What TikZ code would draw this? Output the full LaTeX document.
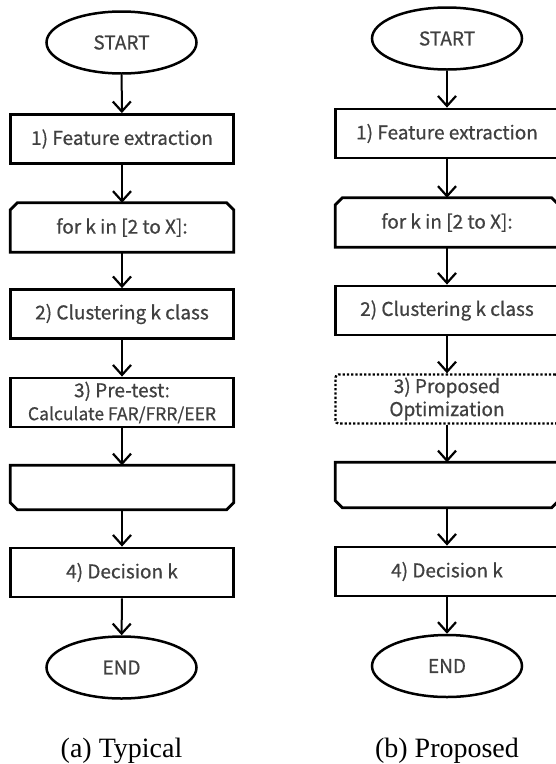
\documentclass[tikz,border=0pt]{standalone}
\usepackage{fontspec}
\setmainfont{Liberation Serif}
\newfontfamily\boxfont[RawFeature={embolden=0.7}]{Noto Sans CJK JP}
\usetikzlibrary{shapes.geometric,arrows.meta,calc}

\begin{document}
\begin{tikzpicture}[x=1pt,y=-1pt,
  txt/.style={font=\boxfont\fontsize{19}{23}\selectfont, text=black!75},
  border/.style={line width=2.8pt, line join=miter},
  boxsize/.style={minimum width=223pt, minimum height=49pt, inner sep=0pt, align=center, txt},
  stepbox/.style={draw, border, boxsize},
  dotbox/.style={boxsize, draw, line width=2.3pt, dash pattern=on 2.3pt off 2pt, rounded corners=3pt},
  loopbox/.style={boxsize},
  term/.style={draw, ellipse, line width=2.5pt, minimum width=150pt, minimum height=62pt,
               inner sep=0pt, txt},
  flow/.style={line width=2pt, -{Straight Barb[length=10pt,width=18pt,line width=2.2pt]}},
  caption/.style={font=\fontsize{28}{30}\selectfont, anchor=base}
]
\useasboundingbox (0,0) rectangle (556,764);
\clip (0,0) rectangle (556,764);

% (a) typical procedure
\node[term]    (aS)  at (121.5,42.5) {START};
\node[stepbox] (a1)  at (122,139)    {1) Feature extraction};
\node[loopbox] (aL)  at (122,227.5)  {for k in [2 to X]:};
\node[stepbox] (a2)  at (122,314)    {2) Clustering k class};
\node[stepbox] (a3)  at (122,402.5)  {3) Pre-test:\\{\fontsize{17.5}{20}\selectfont Calculate FAR/FRR/EER}};
\node[loopbox, minimum height=44pt] (aE) at (122,487.5) {};
\node[stepbox] (a4)  at (122,572.5)  {4) Decision k};
\node[term]    (aT)  at (121.5,667.5){END};
\node[caption] (aC)  at (121.5,757)  {(a) Typical};

% (b) proposed procedure
\node[term]    (bS)  at (447,38.5)   {START};
\node[stepbox] (b1)  at (447,133.5)  {1) Feature extraction};
\node[loopbox] (bL)  at (447,222.5)  {for k in [2 to X]:};
\node[stepbox] (b2)  at (447,310.5)  {2) Clustering k class};
\node[dotbox]  (b3)  at (447,399)    {3) Proposed\\Optimization};
\node[loopbox, minimum height=45pt] (bE) at (447,485) {};
\node[stepbox] (b4)  at (447,571.5)  {4) Decision k};
\node[term]    (bT)  at (447,666)    {END};
\node[caption] (bC)  at (447,757)    {(b) Proposed};

% loop limit symbols: chamfered top corners open the loop, chamfered bottom corners close it
\foreach \n in {aL,bL}{
  \draw[border] (\n.south west) -- ($(\n.north west)+(0pt,-7pt)$) -- ($(\n.north west)+(7pt,0pt)$)
    -- ($(\n.north east)+(-7pt,0pt)$) -- ($(\n.north east)+(0pt,-7pt)$) -- (\n.south east) -- cycle;
}
\foreach \n in {aE,bE}{
  \draw[border] (\n.north west) -- ($(\n.south west)+(0pt,7pt)$) -- ($(\n.south west)+(7pt,0pt)$)
    -- ($(\n.south east)+(-7pt,0pt)$) -- ($(\n.south east)+(0pt,7pt)$) -- (\n.north east) -- cycle;
}

\draw[flow] (aS) -- (a1);
\draw[flow] (a1) -- (aL);
\draw[flow] (aL) -- (a2);
\draw[flow] (a2) -- (a3);
\draw[flow] (a3) -- (aE);
\draw[flow] (aE) -- (a4);
\draw[flow] (a4) -- (aT);

\draw[flow] (bS) -- (b1);
\draw[flow] (b1) -- (bL);
\draw[flow] (bL) -- (b2);
\draw[flow] (b2) -- (b3);
\draw[flow] (b3) -- (bE);
\draw[flow] (bE) -- (b4);
\draw[flow] (b4) -- (bT);
\end{tikzpicture}
\end{document}
